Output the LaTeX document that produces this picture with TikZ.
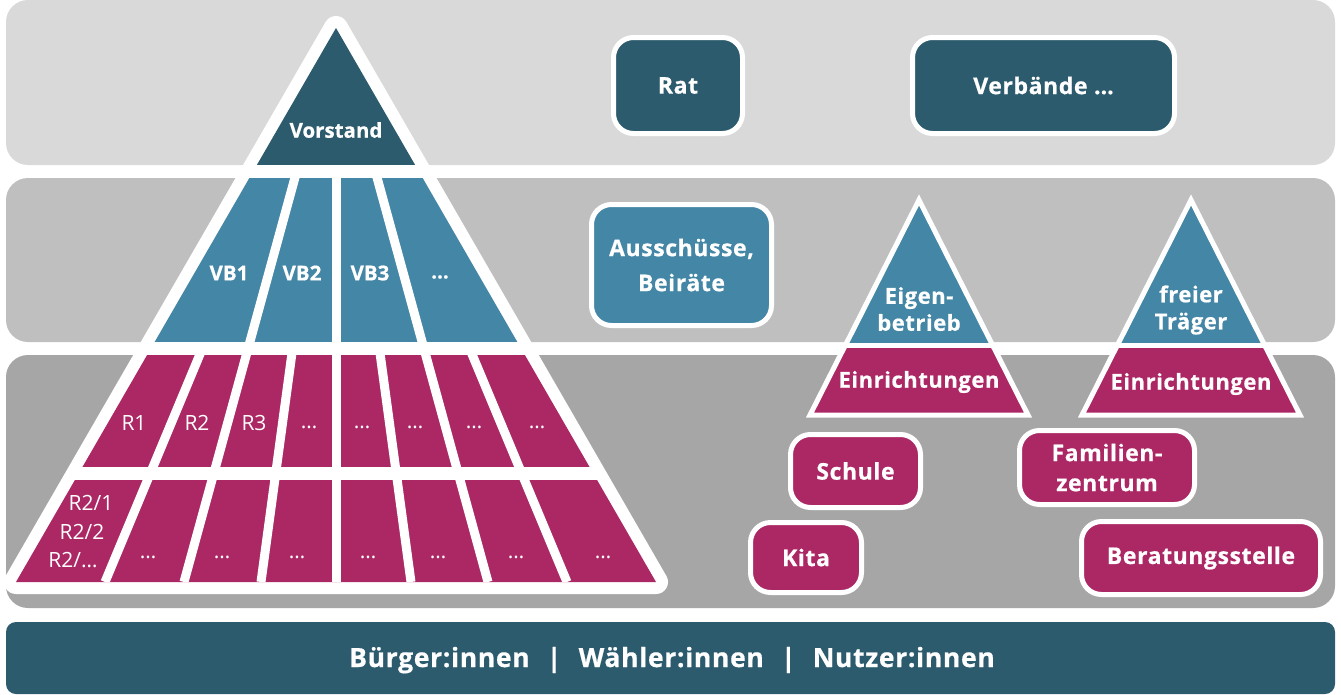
\documentclass[tikz,border=0pt]{standalone}
\usepackage{fontspec}
\setmainfont{Open Sans}
\newfontfamily\widefont[LetterSpace=2.5, BoldFeatures={FakeBold=0.6}]{Open Sans}
\newfontfamily\heavyfont[BoldFeatures={FakeBold=0.6}]{Open Sans}
\definecolor{bandA}{HTML}{D9D9D9}
\definecolor{bandB}{HTML}{BFBFBF}
\definecolor{bandC}{HTML}{A6A6A6}
\definecolor{cdark}{HTML}{2D5B6E}
\definecolor{cblue}{HTML}{4386A5}
\definecolor{cmag}{HTML}{AB2865}
\tikzset{
  box/.style={draw=white, line width=5pt, rounded corners=20pt, text=white,
    font=\widefont\bfseries\fontsize{23}{30}\selectfont, align=center, inner sep=0pt},
  lbl/.style={text=white, font=\heavyfont\bfseries\fontsize{20.5}{27}\selectfont, align=center, inner sep=0pt},
  tlbl/.style={lbl, font=\widefont\bfseries\fontsize{22}{27}\selectfont},
  rlbl/.style={text=white, font=\fontsize{21}{24}\selectfont, inner sep=0pt},
  sep/.style={white, line width=9pt},
}
\begin{document}
\begin{tikzpicture}[x=1pt,y=-1pt]
   \useasboundingbox (0,0) rectangle (1341,694);
   \fill[bandA, rounded corners=22pt] (6,0) rectangle (1335,165);
   \fill[bandB, rounded corners=22pt] (6,178) rectangle (1335,342);
   \fill[bandC, rounded corners=22pt] (6,355) rectangle (1335,608);
   \fill[cdark, rounded corners=10pt] (6,622) rectangle (1335,694);

   \coordinate (top) at (336,28);
   \coordinate (bl) at (16,582);
   \coordinate (br) at (656,582);
   \filldraw[white, line width=24pt, line join=round] (top) -- (bl) -- (br) -- cycle;
   \begin{scope}
      \clip (top) -- (bl) -- (br) -- cycle;
      \fill[cdark] (0,0) rectangle (700,165);
      \fill[cblue] (0,178) rectangle (700,342);
      \fill[cmag] (0,355) rectangle (700,467);
      \fill[cmag] (0,480) rectangle (700,600);
      \begin{scope}
         \clip (0,170) rectangle (700,600);
         \foreach \k in {-152,0,152} \draw[sep] (top) -- ++(\k,554);
      \end{scope}
      \begin{scope}
         \clip (0,350) rectangle (700,600);
         \foreach \k in {-231,-75,75,231} \draw[sep] (top) -- ++(\k,554);
      \end{scope}
   \end{scope}

   \node[lbl] (vorstand) at (336,130) {Vorstand};
   \node[lbl] (vb1) at (229,273) {VB1};
   \node[lbl] (vb2) at (302,273) {VB2};
   \node[lbl] (vb3) at (370,273) {VB3};
   \node[lbl] (vbx) at (440,277) {…};

   \node[rlbl] (r1) at (134,423) {R1};
   \node[rlbl] (r2) at (197,423) {R2};
   \node[rlbl] (r3) at (254,423) {R3};
   \foreach \x [count=\i] in {309,362,415,474,537} \node[rlbl] (rx\i) at (\x,427) {…};
   \node[rlbl] (r21) at (91,503) {R2/1};
   \node[rlbl] (r22) at (82,532) {R2/2};
   \node[rlbl] (r2x) at (73,560) {R2/…};
   \foreach \x [count=\i] in {148,222,297,368,438,516,603} \node[rlbl] (sx\i) at (\x,557) {…};

   \coordinate (ea) at (919,200);
   \coordinate (el) at (810,415);
   \coordinate (er) at (1028,415);
   \begin{scope}
      \clip (ea) -- (el) -- (er) -- cycle;
      \fill[cblue] (800,190) rectangle (1040,345.5);
      \fill[cmag] (800,345.5) rectangle (1040,420);
      \draw[white, line width=5pt] (800,345.5) -- (1040,345.5);
   \end{scope}
   \draw[white, line width=5pt] (ea) -- (el) -- (er) -- cycle;

   \coordinate (fa) at (1191,200);
   \coordinate (fl) at (1082,415);
   \coordinate (fr) at (1300,415);
   \begin{scope}
      \clip (fa) -- (fl) -- (fr) -- cycle;
      \fill[cblue] (1070,190) rectangle (1310,345.5);
      \fill[cmag] (1070,345.5) rectangle (1310,420);
      \draw[white, line width=5pt] (1070,345.5) -- (1310,345.5);
   \end{scope}
   \draw[white, line width=5pt] (fa) -- (fl) -- (fr) -- cycle;

   \node[tlbl] (eigen) at (919,309) {Eigen-\\betrieb};
   \node[tlbl] (einr1) at (919,382) {Einrichtungen};
   \node[tlbl] (frei) at (1191,310) {freier\\Träger};
   \node[tlbl] (einr2) at (1191,384) {Einrichtungen};

   \node[box, fill=cdark, minimum width=129pt, minimum height=96pt] (rat) at (678,85.5) {Rat};
   \node[box, fill=cdark, minimum width=262pt, minimum height=96pt] (verb) at (1043.5,85.5) {Verbände …};
   \node[box, fill=cblue, minimum width=180pt, minimum height=121pt] (aus) at (681.5,265) {Ausschüsse,\\[5pt]Beiräte};
   \node[box, fill=cmag, minimum width=130pt, minimum height=73pt] (schule) at (855.5,471) {Schule};
   \node[box, fill=cmag, minimum width=175pt, minimum height=74pt] (fam) at (1107,467.5) {Familien-\\zentrum};
   \node[box, fill=cmag, minimum width=111pt, minimum height=70pt] (kita) at (806,557.5) {Kita};
   \node[box, fill=cmag, minimum width=239pt, minimum height=73pt] (berat) at (1201,558) {Beratungsstelle};

   \node[lbl, font=\widefont\bfseries\fontsize{26.5}{30}\selectfont, anchor=base] (volk) at (672,667)
      {Bürger:innen\hspace{0.65em}|\hspace{0.65em}Wähler:innen\hspace{0.65em}|\hspace{0.65em}Nutzer:innen};
\end{tikzpicture}
\end{document}
